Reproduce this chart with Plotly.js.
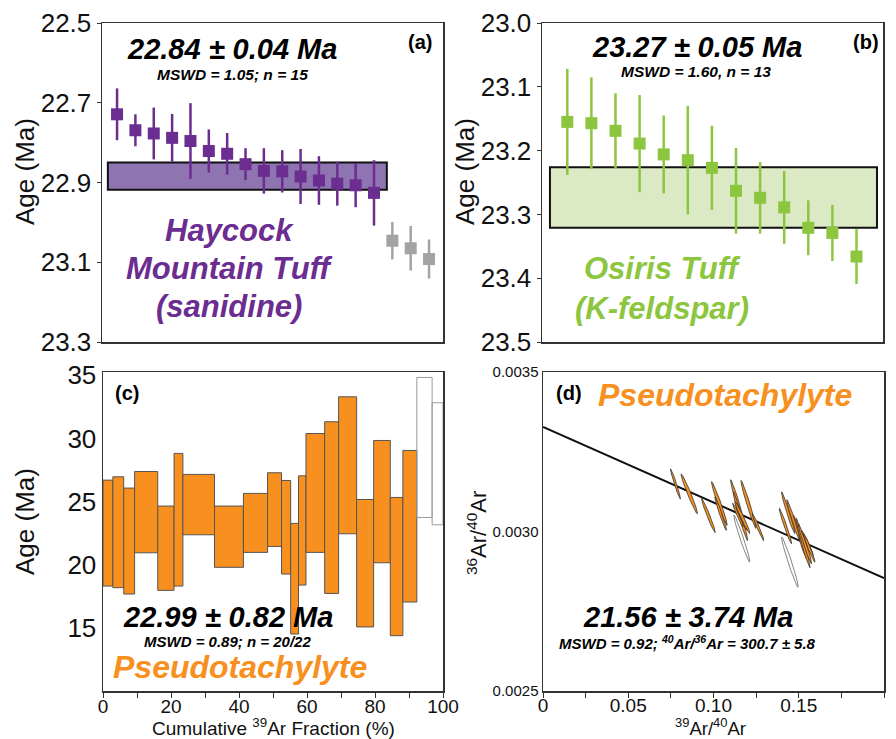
<!DOCTYPE html>
<html>
<head>
<meta charset="utf-8">
<script src="https://cdn.plot.ly/plotly-3.0.1.min.js"></script>
<style>html,body{margin:0;padding:0;background:#fff;}#chart{width:896px;height:739px;}</style>
</head>
<body>
<div id="chart"></div>
<script>
// ---------- Panel (a): Haycock Mountain Tuff (sanidine) ----------
const stepsA = [1,2,3,4,5,6,7,8,9,10,11,12,13,14,15];
const ageA   = [22.729,22.769,22.777,22.788,22.796,22.821,22.828,22.854,22.871,22.872,22.885,22.895,22.903,22.907,22.926];
const errA   = [0.065,0.040,0.065,0.060,0.095,0.054,0.052,0.040,0.057,0.053,0.069,0.061,0.055,0.055,0.082];
const stepsArej = [16,17,18];
const ageArej   = [23.046,23.065,23.092];
const errArej   = [0.047,0.056,0.049];
const plateauA  = {x0:0.5, x1:15.7, y0:22.850, y1:22.918};

// ---------- Panel (b): Osiris Tuff (K-feldspar) ----------
const stepsB = [1,2,3,4,5,6,7,8,9,10,11,12,13];
const ageB   = [23.155,23.157,23.169,23.189,23.206,23.215,23.227,23.263,23.274,23.289,23.321,23.329,23.366];
const errB   = [0.083,0.072,0.059,0.076,0.061,0.085,0.066,0.067,0.056,0.057,0.043,0.044,0.043];
const plateauB = {x0:0.28, x1:13.85, y0:23.226, y1:23.321};

// ---------- Panel (c): Pseudotachylyte age spectrum ----------
const cumEdges = [0,2.9,6.1,9.3,16.1,20.9,23.5,32.8,41.3,48.4,52.5,55.2,57.5,59.7,65.2,69.3,74.6,79.6,84.5,88.2,92.3,96.8,100];
const ageHighC = [26.71,26.97,26.08,27.39,24.66,28.82,27.16,24.66,25.66,27.29,26.68,23.29,27.05,30.39,31.32,33.29,25.18,29.84,25.34,29.05,34.82,32.82];
const ageLowC  = [18.34,18.21,17.71,20.97,18.00,18.34,22.39,19.82,21.00,21.47,19.29,14.55,18.42,21.00,17.76,22.47,15.11,20.18,14.42,17.08,23.76,23.18];
const usedC    = [1,1,1,1,1,1,1,1,1,1,1,1,1,1,1,1,1,1,1,1,0,0];

// ---------- Panel (d): inverse isochron ----------
const ellX   = [0.0777,0.0858,0.0970,0.1034,0.1042,0.1142,0.1205,0.1158,0.1162,0.1261,0.1143,0.1169,0.1438,0.1422,0.1507,0.1525,0.1536,0.1551,0.1561,0.1468,0.1166,0.1448];
const ellY   = [0.003149,0.003118,0.003050,0.003088,0.003056,0.003089,0.003085,0.003048,0.003048,0.003014,0.003052,0.003044,0.003059,0.003017,0.002983,0.002964,0.002962,0.002964,0.002949,0.003036,0.002978,0.002904];
const ellSX  = [0.0029,0.0048,0.0040,0.0046,0.0034,0.0042,0.0044,0.0042,0.0033,0.0034,0.0031,0.0044,0.0039,0.0036,0.0039,0.0041,0.0039,0.0034,0.0034,0.0038,0.0047,0.0049];
const ellSY  = [0.0000475,0.0000625,0.0000535,0.0000685,0.0000525,0.0000735,0.000075,0.0000765,0.0000435,0.0000425,0.000037,0.00005,0.0000655,0.0000555,0.0000685,0.0000775,0.000063,0.0000395,0.000045,0.0000635,0.000074,0.000079];
const ellRho = -0.975;
const ellUsed = [1,1,1,1,1,1,1,1,1,1,1,1,1,1,1,1,1,1,1,1,0,0];
const isoLineX = [0, 0.2];
const isoLineY = [0.003328, 0.002854];

const FONT = 'Liberation Sans, Arial, sans-serif';
const PURPLE = '#6b2d90', PURPLE_FILL = '#8f74b2';
const GREEN = '#8cc63f', GREEN_FILL = '#dbe9c4';
const ORANGE = '#f7901e';
const GREY = '#a3a3a3';

const traces = [];

// (a)
traces.push({type:'scatter', mode:'markers', x:stepsA, y:ageA, xaxis:'x', yaxis:'y',
  marker:{symbol:'square', size:12, color:PURPLE},
  error_y:{type:'data', array:errA, visible:true, color:PURPLE, thickness:2.5, width:0}, hoverinfo:'skip'});
traces.push({type:'scatter', mode:'markers', x:stepsArej, y:ageArej, xaxis:'x', yaxis:'y',
  marker:{symbol:'square', size:12, color:GREY},
  error_y:{type:'data', array:errArej, visible:true, color:GREY, thickness:2.5, width:0}, hoverinfo:'skip'});

// (b)
traces.push({type:'scatter', mode:'markers', x:stepsB, y:ageB, xaxis:'x2', yaxis:'y2',
  marker:{symbol:'square', size:12, color:GREEN},
  error_y:{type:'data', array:errB, visible:true, color:GREEN, thickness:2.5, width:0}, hoverinfo:'skip'});

// (c)
function stepTrace(flag, fill, line) {
  const xs=[], ws=[], bs=[], hs=[];
  for (let i=0;i<ageHighC.length;i++) {
    if (usedC[i]!==flag) continue;
    xs.push((cumEdges[i]+cumEdges[i+1])/2);
    ws.push(cumEdges[i+1]-cumEdges[i]);
    bs.push(ageLowC[i]);
    hs.push(ageHighC[i]-ageLowC[i]);
  }
  return {type:'bar', x:xs, y:hs, base:bs, width:ws, xaxis:'x3', yaxis:'y3',
    marker:{color:fill, line:{color:line, width:1}}, hoverinfo:'skip'};
}
traces.push(stepTrace(1, ORANGE, '#555555'));
traces.push(stepTrace(0, 'rgba(255,255,255,0)', '#9a9a9a'));

// (d)
traces.push({type:'scatter', mode:'lines', x:isoLineX, y:isoLineY, xaxis:'x4', yaxis:'y4',
  line:{color:'#111', width:2}, hoverinfo:'skip'});
const s = Math.sqrt(1-ellRho*ellRho);
for (let i=0;i<ellX.length;i++) {
  const px=[], py=[];
  for (let k=0;k<=60;k++) {
    const t = 2*Math.PI*k/60;
    px.push(ellX[i] + ellSX[i]*Math.cos(t));
    py.push(ellY[i] + ellSY[i]*(ellRho*Math.cos(t) + s*Math.sin(t)));
  }
  const used = ellUsed[i]===1;
  traces.push({type:'scatter', mode:'lines', x:px, y:py, xaxis:'x4', yaxis:'y4',
    fill:'toself', fillcolor: used ? ORANGE : 'rgba(255,255,255,0)',
    line:{color: used ? '#333' : '#777', width: used ? 0.8 : 0.9}, hoverinfo:'skip'});
}

const P = (x,y) => ({x:x/896, y:1-y/739});
function ann(text, px, py, size, color, extra) {
  const p = P(px,py);
  return Object.assign({xref:'paper', yref:'paper', x:p.x, y:p.y, text:text, showarrow:false,
    xanchor:'center', yanchor:'middle', font:{family:FONT, size:size, color:color||'#000'}}, extra||{});
}

const axisBase = {showline:true, mirror:true, linecolor:'#333', linewidth:1.5, showgrid:false, zeroline:false,
  tickfont:{family:FONT, color:'#111'}, tickcolor:'#333'};

const layout = {
  width:896, height:739, margin:{l:0,r:0,t:0,b:0},
  paper_bgcolor:'#fff', plot_bgcolor:'#fff', showlegend:false, barmode:'overlay',
  font:{family:FONT},
  xaxis: Object.assign({}, axisBase, {domain:[102/896, 443/896], range:[0.18,18.76], showticklabels:false, ticks:'', anchor:'y'}),
  yaxis: Object.assign({}, axisBase, {domain:[1-342/739, 1-23/739], range:[23.3,22.5], tick0:22.5, dtick:0.2, tickformat:'.1f',
    ticks:'outside', ticklen:4, tickfont:{family:FONT, size:26, color:'#111'}, anchor:'x'}),
  xaxis2: Object.assign({}, axisBase, {domain:[542/896, 883/896], range:[-0.05,14.1], showticklabels:false, ticks:'', anchor:'y2'}),
  yaxis2: Object.assign({}, axisBase, {domain:[1-342/739, 1-23/739], range:[23.5,23.0], tick0:23.0, dtick:0.1, tickformat:'.1f',
    ticks:'outside', ticklen:4, tickfont:{family:FONT, size:26, color:'#111'}, anchor:'x2'}),
  xaxis3: Object.assign({}, axisBase, {domain:[103/896, 443/896], range:[0,100], tick0:0, dtick:20,
    ticks:'outside', ticklen:5, ticklabelstandoff:-7, tickfont:{family:FONT, size:19, color:'#111'}, anchor:'y3',
    minor:{dtick:10, ticks:'outside', ticklen:5, tickcolor:'#333'}}),
  yaxis3: Object.assign({}, axisBase, {domain:[1-691/739, 1-372/739], range:[10.05,35.25], tick0:0, dtick:5,
    ticks:'', tickfont:{family:FONT, size:26, color:'#111'}, anchor:'x3'}),
  xaxis4: Object.assign({}, axisBase, {domain:[543/896, 884/896], range:[0,0.2],
    tickvals:[0,0.05,0.10,0.15,0.20], ticktext:['0','0.05','0.10','0.15','0.20'],
    ticks:'outside', ticklen:5, ticklabelstandoff:-8, tickfont:{family:FONT, size:19, color:'#111'}, anchor:'y4',
    minor:{dtick:0.025, ticks:'outside', ticklen:5, tickcolor:'#333'}}),
  yaxis4: Object.assign({}, axisBase, {domain:[1-691/739, 1-372/739], range:[0.0025,0.0035],
    tickvals:[0.0025,0.0030,0.0035], ticktext:['0.0025','0.0030','0.0035'],
    ticks:'', tickfont:{family:FONT, size:15, color:'#111'}, anchor:'x4'}),
  shapes: [
    {type:'rect', xref:'x', yref:'y', x0:plateauA.x0, x1:plateauA.x1, y0:plateauA.y0, y1:plateauA.y1,
      fillcolor:PURPLE_FILL, line:{color:'#111', width:2}, layer:'below'},
    {type:'rect', xref:'x2', yref:'y2', x0:plateauB.x0, x1:plateauB.x1, y0:plateauB.y0, y1:plateauB.y1,
      fillcolor:GREEN_FILL, line:{color:'#111', width:2}, layer:'below'}
  ],
  annotations: [
    // axis titles
    ann('Age (Ma)', 25, 172, 26, '#111', {textangle:-90}),
    ann('Age (Ma)', 465, 172, 26, '#111', {textangle:-90}),
    ann('Age (Ma)', 25, 522, 26, '#111', {textangle:-90}),
    ann('<sup>36</sup>Ar/<sup>40</sup>Ar', 477, 533, 22, '#111', {textangle:-90}),
    ann('Cumulative <sup>39</sup>Ar Fraction (%)', 273, 727, 19, '#111'),
    ann('<sup>39</sup>Ar/<sup>40</sup>Ar', 710, 727, 18.5, '#111'),

    ann('<b><i>22.84 ± 0.04 Ma</i></b>', 232, 49, 29),
    ann('<b><i>MSWD = 1.05; n = 15</i></b>', 232, 74, 15.5),
    ann('<b>(a)</b>', 420, 42, 20),
    ann('<b><i>Haycock</i></b>', 229, 231, 31, PURPLE),
    ann('<b><i>Mountain Tuff</i></b>', 229, 268, 31, PURPLE),
    ann('<b><i>(sanidine)</i></b>', 229, 306, 31, PURPLE),

    ann('<b><i>23.27 ± 0.05 Ma</i></b>', 697, 47, 29),
    ann('<b><i>MSWD = 1.60, n = 13</i></b>', 696, 72, 15.5),
    ann('<b>(b)</b>', 866, 42, 20),
    ann('<b><i>Osiris Tuff</i></b>', 662, 268, 31, GREEN),
    ann('<b><i>(K-feldspar)</i></b>', 662, 308, 31, GREEN),

    ann('<b>(c)</b>', 127, 393, 20),
    ann('<b><i>22.99 ± 0.82 Ma</i></b>', 228, 617, 29),
    ann('<b><i>MSWD = 0.89; n = 20/22</i></b>', 227, 641, 15),
    ann('<b><i>Pseudotachylyte</i></b>', 240, 667, 32, ORANGE),

    ann('<b>(d)</b>', 569, 393, 20),
    ann('<b><i>Pseudotachylyte</i></b>', 725, 395, 32, ORANGE),
    ann('<b><i>21.56 ± 3.74 Ma</i></b>', 688, 617, 29),
    ann('<b><i>MSWD = 0.92; <sup>40</sup>Ar/<sup>36</sup>Ar = 300.7 ± 5.8</i></b>', 687, 642, 15)
  ]
};

Plotly.newPlot('chart', traces, layout, {staticPlot:true, displayModeBar:false});
</script>
</body>
</html>
